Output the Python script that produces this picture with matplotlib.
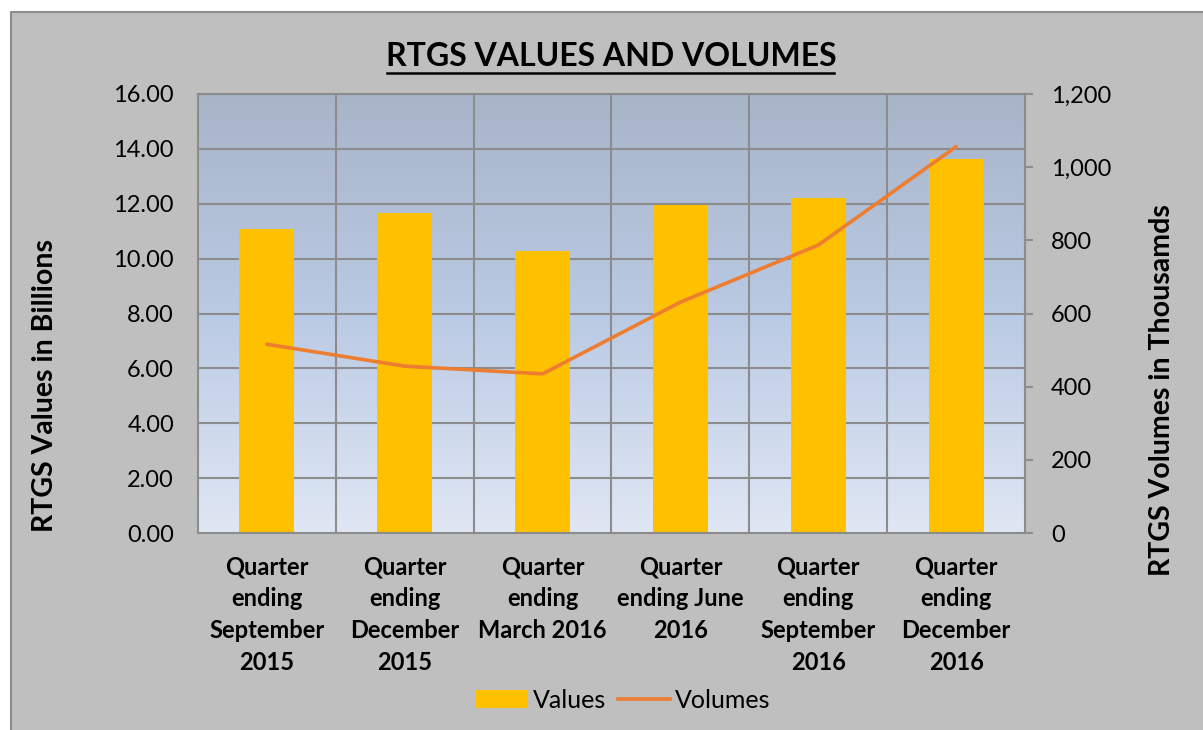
import matplotlib
matplotlib.use("Agg")
import matplotlib.pyplot as plt
import numpy as np
from matplotlib.colors import LinearSegmentedColormap
from matplotlib.patches import Rectangle, Patch
from matplotlib.lines import Line2D
from matplotlib.ticker import FuncFormatter, MultipleLocator

plt.rcParams['font.family'] = ['Lato', 'DejaVu Sans']

categories = ["Quarter\nending\nSeptember\n2015", "Quarter\nending\nDecember\n2015",
              "Quarter\nending\nMarch 2016", "Quarter\nending June\n2016",
              "Quarter\nending\nSeptember\n2016", "Quarter\nending\nDecember\n2016"]
values = [11.08, 11.66, 10.28, 11.95, 12.21, 13.62]
volumes = [516, 456, 435, 631, 787, 1056]

W, H = 1203, 730
fig = plt.figure(figsize=(W / 100, H / 100), dpi=100)
fig.patch.set_facecolor("white")
PX = 72 / 100  # points per pixel

# chart area background
fig.patches.append(Rectangle((11 / W, 0), 1 - 11 / W, 1 - 12 / H, transform=fig.transFigure,
                             facecolor="#BFBFBF", edgecolor="none", zorder=-2))
fig.lines.append(Line2D([11 / W, 11 / W, 1], [0, 1 - 12 / H, 1 - 12 / H], transform=fig.transFigure,
                        color="#8C8C8C", lw=1.5, zorder=-1))

L, R, T, B = 198, 1025, 94, 533
ax = fig.add_axes([L / W, 1 - B / H, (R - L) / W, (B - T) / H])
ax.set_facecolor("none")

x = np.arange(len(categories))
ax.set_xlim(-0.5, len(categories) - 0.5)
ax.set_ylim(0, 16)

grad = LinearSegmentedColormap.from_list("g", ["#E0E7F4", "#BACAE4", "#A8B4C8"])
ax.imshow(np.linspace(0, 1, 256).reshape(-1, 1), cmap=grad, origin="lower", aspect="auto",
          extent=[-0.5, len(categories) - 0.5, 0, 16], zorder=0)

grid_c = "#8C8C8C"
for yv in np.arange(2, 16.1, 2):
    ax.axhline(yv, color=grid_c, lw=1.5, zorder=1)
for xv in np.arange(0.5, len(categories) - 0.5, 1):
    ax.axvline(xv, color=grid_c, lw=1.5, zorder=1)

ax.bar(x, values, width=0.4, color="#FFC000", zorder=2, label="Values")

for s in ax.spines.values():
    s.set_color(grid_c)
    s.set_linewidth(1.5)

ax.yaxis.set_major_locator(MultipleLocator(2))
ax.yaxis.set_major_formatter(FuncFormatter(lambda v, p: f"{v:.2f}"))
ax.tick_params(axis="y", length=0, pad=24 * PX, labelsize=17, labelcolor="black")
ax.set_xticks(x)
ax.set_xticklabels(categories, fontsize=17, fontweight="bold", linespacing=1.47)
ax.tick_params(axis="x", length=0, pad=22 * PX)

ax2 = ax.twinx()
ax2.set_ylim(0, 1200)
ax2.yaxis.set_major_locator(MultipleLocator(200))
ax2.yaxis.set_major_formatter(FuncFormatter(lambda v, p: f"{int(v):,}"))
ax2.tick_params(axis="y", direction="out", length=8 * PX, width=1.5, color=grid_c, pad=18 * PX,
                labelsize=17, labelcolor="black")
for s in ax2.spines.values():
    s.set_visible(False)
ax2.plot(x, volumes, color="#ED7D31", lw=2.6, solid_capstyle="round", zorder=3, label="Volumes")

fig.text(611 / W, 1 - 57 / H, "RTGS VALUES AND VOLUMES", ha="center", va="center",
         fontsize=23, fontweight="bold")
fig.lines.append(Line2D([387 / W, 834 / W], [1 - 73 / H, 1 - 73 / H], transform=fig.transFigure,
                        color="black", lw=1.8))

fig.text(45 / W, 1 - 386 / H, "RTGS Values in Billions", rotation=90, ha="center", va="center",
         fontsize=20.5, fontweight="bold")
fig.text(1162 / W, 1 - 390 / H, "RTGS Volumes in Thousamds", rotation=90, ha="center", va="center",
         fontsize=20.5, fontweight="bold")

handles = [Patch(facecolor="#FFC000", edgecolor="none"),
           Line2D([0], [0], color="#ED7D31", lw=2.6)]
fig.legend(handles, ["Values", "Volumes"], loc="center", bbox_to_anchor=(623 / W, 1 - 700 / H),
           ncol=2, frameon=False, fontsize=18, handlelength=2.1, handletextpad=0.2,
           columnspacing=0.45)

fig.savefig("out.png", dpi=100)
